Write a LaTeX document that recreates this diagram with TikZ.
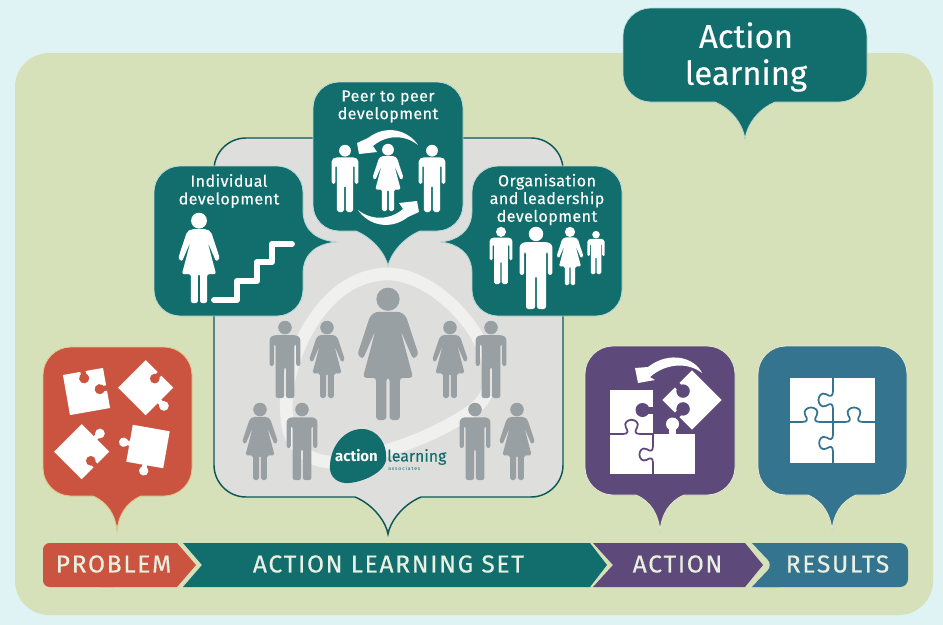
\documentclass[tikz,border=0pt]{standalone}
\usepackage{fontspec}
\setmainfont{Fira Sans}
\newfontfamily\lblfont[LetterSpace=3,FakeBold=.25]{Fira Sans}
\newfontfamily\bandfont[LetterSpace=7,FakeBold=.45]{Fira Sans}
\newfontfamily\titlefont[FakeBold=.2]{Fira Sans}
\newfontfamily\assocfont[LetterSpace=18]{Fira Sans}
\definecolor{outerbg}{HTML}{E0F3F4}
\definecolor{panelbg}{HTML}{D6E0B9}
\definecolor{tealc}{HTML}{126E6C}
\definecolor{redc}{HTML}{CB5440}
\definecolor{purplec}{HTML}{5E4A7A}
\definecolor{bluec}{HTML}{35748E}
\definecolor{greyp}{HTML}{DEDEDD}
\definecolor{figgrey}{HTML}{99A0A3}
\definecolor{swoosh}{HTML}{F0F1EF}
\definecolor{lighttxt}{HTML}{E9F0E2}
\newcommand\btip[4]{-- ({#1+#4},#3) .. controls ({#1+.4*#4},{#3+.25*#4}) and ({#1+.05*#4},{#3+.8*#4}) .. (#1,#2) .. controls ({#1-.05*#4},{#3+.8*#4}) and ({#1-.4*#4},{#3+.25*#4}) .. ({#1-#4},#3)}
% x0 y0 x1 y1 r rightinsert bottominsert leftinsert style
\newcommand\bub[9]{%
  \path[#9] ({#1+#5},#2) -- ({#3-#5},#2) .. controls ({#3-.45*#5},#2) and (#3,{#2+.45*#5}) .. (#3,{#2+#5}) #6
  -- (#3,{#4-#5}) .. controls (#3,{#4-.45*#5}) and ({#3-.45*#5},#4) .. ({#3-#5},#4) #7
  -- ({#1+#5},#4) .. controls ({#1+.45*#5},#4) and (#1,{#4-.45*#5}) .. (#1,{#4-#5}) #8
  -- (#1,{#2+#5}) .. controls (#1,{#2+.45*#5}) and ({#1+.45*#5},#2) .. ({#1+#5},#2) -- cycle;}
% cx top h colour
\newcommand\manfig[4]{\begin{scope}[shift={(#1,#2)},scale=#3]
  \fill[#4] (0,.085) circle (.088);
  \fill[#4,rounded corners={#3*.022pt}] (-.2,.36) -- (-.2,.22) -- (-.15,.185) -- (.15,.185) -- (.2,.22) -- (.2,.585) -- (.145,.585) -- (.145,.30) -- (.122,.30) -- (.122,1) -- (.012,1) -- (.012,.60) -- (-.012,.60) -- (-.012,1) -- (-.122,1) -- (-.122,.30) -- (-.145,.30) -- (-.145,.585) -- (-.2,.585) -- cycle;
\end{scope}}
\newcommand\womanfig[4]{\begin{scope}[shift={(#1,#2)},scale=#3]
  \fill[#4] (0,.085) circle (.088);
  \fill[#4,rounded corners={#3*.018pt}] (-.09,.18) -- (.09,.18) -- (.135,.21) -- (.232,.505) -- (.19,.54) -- (.095,.32) -- (.19,.68) -- (.09,.68) -- (.09,1) -- (.012,1) -- (.012,.68) -- (-.012,.68) -- (-.012,1) -- (-.09,1) -- (-.09,.68) -- (-.19,.68) -- (-.095,.32) -- (-.19,.54) -- (-.232,.505) -- (-.135,.21) -- cycle;
\end{scope}}
% jigsaw bits: unit square in a scope
\newcommand\jigsq{\fill[white] (-.5,-.5) rectangle (.5,.5);}
\newcommand\jigtab[1]{\begin{scope}[rotate=#1]\fill[white] (.45,-.065) rectangle (.6,.065); \fill[white] (.66,0) circle (.125);\end{scope}}
\newcommand\jighole[2]{\begin{scope}[rotate=#1]\fill[#2] (.55,-.065) rectangle (.4,.065); \fill[#2] (.33,0) circle (.125);\end{scope}}
\newcommand\jigholeb[2]{\begin{scope}[rotate=#1]\fill[#2] (.55,-.075) rectangle (.35,.075); \fill[#2] (.3,0) circle (.16);\end{scope}}
% knob seam: start x y, rot, length, colour
\newcommand\seam[5]{\begin{scope}[shift={(#1,#2)},rotate=#3,scale=#4]
  \draw[#5,line width=1.3pt,line join=round] (0,0) -- (.3,0) .. controls (.44,0) and (.42,-.08) .. (.37,-.15) .. controls (.31,-.27) and (.42,-.33) .. (.5,-.33) .. controls (.58,-.33) and (.69,-.27) .. (.63,-.15) .. controls (.58,-.08) and (.56,0) .. (.7,0) -- (1,0);
\end{scope}}
\newcommand\peerarrow{\fill[white] (418,145) .. controls (408,130) and (386,124) .. (368,138) -- (357,143) -- (359,154) -- (377,152) -- (373,146) .. controls (386,135) and (404,134) .. (418,145) -- cycle;}
\tikzset{
  x=.75pt,y=-.75pt,
  lbl/.style={text=white,font=\lblfont\fontsize{12}{13.3}\selectfont,align=center,inner sep=0pt},
  band/.style={text=lighttxt,font=\bandfont\fontsize{18.4}{20}\selectfont,inner sep=0pt},
}
\begin{document}
\begin{tikzpicture}
\useasboundingbox (0,0) rectangle (943,625);
\fill[outerbg] (0,0) rectangle (943,625);
\bub{15}{53}{933}{615}{34}{}{}{}{fill=panelbg}
% set panel
\bub{214}{138}{563}{497}{32}{}{\btip{388}{534}{497}{33}}{}{fill=greyp,draw=tealc!80!black,line width=1.1pt}
% swoosh
\draw[swoosh,line width=9.5pt,line join=round] (388,274) .. controls (425,274) and (468,312) .. (484,350) .. controls (496,380) and (490,398) .. (470,412) .. controls (440,432) and (400,450) .. (345,461) .. controls (315,467) and (288,450) .. (287,418) .. controls (280,370) and (318,274) .. (388,274) -- cycle;
% grey people
\womanfig{388}{288}{132}{figgrey}
\manfig{285}{321}{77}{figgrey}
\womanfig{327}{321}{77}{figgrey}
\womanfig{450}{321}{77}{figgrey}
\manfig{491}{321}{77}{figgrey}
\womanfig{260}{403}{77}{figgrey}
\manfig{302}{403}{77}{figgrey}
\manfig{475}{403}{77}{figgrey}
\womanfig{517}{403}{77}{figgrey}
% logo
\fill[tealc] (330,465) .. controls (331,445) and (345,429) .. (362,429) .. controls (378,429) and (388,445) .. (386,460) .. controls (384,474) and (358,484) .. (345,483) .. controls (335,482) and (329,475) .. (330,465) -- cycle;
\node[text=white,font=\fontsize{11.2}{13}\selectfont\bfseries,inner sep=0pt] (logoa) at (356.5,456) {action};
\node[text=tealc,font=\titlefont\fontsize{11.9}{14}\selectfont,inner sep=0pt,anchor=west] (logob) at (387,457) {learning};
\node[text=tealc,font=\assocfont\fontsize{3.8}{4}\selectfont,inner sep=0pt,anchor=west] (logoc) at (388,468.5) {associates};
% title
\bub{623}{8}{867}{102}{28}{}{\btip{745}{139}{102}{30}}{}{fill=tealc,draw=outerbg!80!tealc,line width=.5pt}
\node[text=white,font=\titlefont\fontsize{24.6}{27.7}\selectfont,align=center,inner sep=0pt] (title) at (746,57) {Action\\learning};
% individual
\bub{154}{166}{303}{316}{26}{-- (303,212) .. controls (304,232) and (318,240) .. (336,242) .. controls (318,244) and (304,252) .. (303,272)}{}{}{fill=tealc,draw=outerbg!80!tealc,line width=.6pt}
% organisation
\bub{472}{166}{622}{316}{26}{}{}{-- (472,272) .. controls (471,252) and (457,244) .. (441,242) .. controls (457,240) and (471,232) .. (472,212)}{fill=tealc,draw=outerbg!80!tealc,line width=.6pt}
% peer
\bub{313}{82}{463}{231}{26}{}{\btip{388}{266}{231}{32}}{}{fill=tealc,draw=outerbg!80!tealc,line width=.6pt}
\node[lbl] (peer) at (388,106.5) {Peer to peer\\development};
\node[lbl] (indiv) at (229,191) {Individual\\development};
\node[lbl] (org) at (547,199.5) {Organisation\\and leadership\\development};
\peerarrow
\begin{scope}[rotate around={180:(388,177.5)}]\peerarrow\end{scope}
\manfig{345}{145}{67}{white}
\womanfig{388}{144}{67}{white}
\manfig{432}{145}{67}{white}
\womanfig{199}{213}{90}{white}
\draw[white,line width=4.4pt,line cap=round,line join=round] (214,300) -- (237,300) -- (237,281) -- (257,281) -- (257,262) -- (272,262) -- (272,244) -- (292,244);
\manfig{501}{227}{57}{white}
\manfig{536}{227}{82}{white}
\womanfig{570}{227}{58}{white}
\manfig{596}{231}{43}{white}
% problem
\bub{43}{347}{192}{496}{28}{}{\btip{117}{531}{496}{24}}{}{fill=redc,draw=orange!25!panelbg,line width=.6pt}
\begin{scope}[shift={(86.5,391.5)},rotate=10,scale=40.7]\jigsq\jighole{90}{redc}\jighole{0}{redc}\end{scope}
\begin{scope}[shift={(145.7,387.7)},rotate=45,scale=39]\jigsq\jighole{0}{redc}\jigtab{-90}\end{scope}
\begin{scope}[shift={(81.7,451.7)},rotate=45,scale=39]\jigsq\jigtab{0}\jighole{-90}{redc}\end{scope}
\begin{scope}[shift={(148,446.5)},rotate=-10,scale=37.5]\jigsq\jigtab{180}\jigtab{-90}\end{scope}
% action
\bub{585}{346}{735}{495}{28}{}{\btip{660}{532}{495}{24}}{}{fill=purplec,draw=panelbg!70!white,line width=.6pt}
\fill[white] (610,390) rectangle (653,434);
\fill[purplec] (642.5,410) circle (7);
\fill[purplec] (648,406.5) rectangle (654,413.5);
\fill[white] (610,434) rectangle (695,474);
\fill[white] (669,428) rectangle (676,436);
\fill[white] (672.5,424) circle (6.5);
\seam{610}{434}{0}{43}{purplec}
\seam{653}{475}{90}{41}{purplec}
\begin{scope}[shift={(692,400)},rotate=45,scale=42]\jigsq\jigholeb{90}{purplec}\jigholeb{180}{purplec}\end{scope}
\fill[white] (702,373) .. controls (695,358) and (670,350) .. (648,367) -- (635,368) -- (638,383) -- (655,380) -- (650,377) .. controls (666,363) and (688,362) .. (702,373) -- cycle;
% results
\bub{758}{346}{907}{495}{28}{}{\btip{832}{531}{495}{24}}{}{fill=bluec,draw=panelbg!70!white,line width=.6pt}
\fill[white] (790,378) rectangle (875,463);
\seam{789}{422}{0}{44}{bluec}
\seam{832}{422}{0}{44}{bluec}
\seam{833}{464}{90}{42}{bluec}
\seam{833}{422}{90}{44}{bluec}
% band
\path[fill=tealc] (183,543) -- (590,543) -- (607,565) -- (590,587) -- (183,587) -- (202,565) -- cycle;
\path[fill=purplec] (593,543) -- (745,543) -- (763,565) -- (745,587) -- (593,587) -- (613,565) -- cycle;
\path[fill=bluec,rounded corners=6pt] (752,543) -- (908,543) -- (908,587) -- (752,587) -- (773,565) -- cycle;
\fill[bluec] (752,543) -- (780,543) -- (780,587) -- (752,587) -- (773,565) -- cycle;
\path[fill=redc,rounded corners=5pt] (43,543) -- (120,543) -- (120,587) -- (43,587) -- cycle;
\fill[redc] (100,543) -- (177,543) -- (196,565) -- (177,587) -- (100,587) -- cycle;
\node[band] (bproblem) at (113.5,564) {PROBLEM};
\node[band] (bset) at (388.5,564) {ACTION LEARNING SET};
\node[band] (baction) at (677.5,564) {ACTION};
\node[band] (bresults) at (837.5,564) {RESULTS};
\end{tikzpicture}
\end{document}
